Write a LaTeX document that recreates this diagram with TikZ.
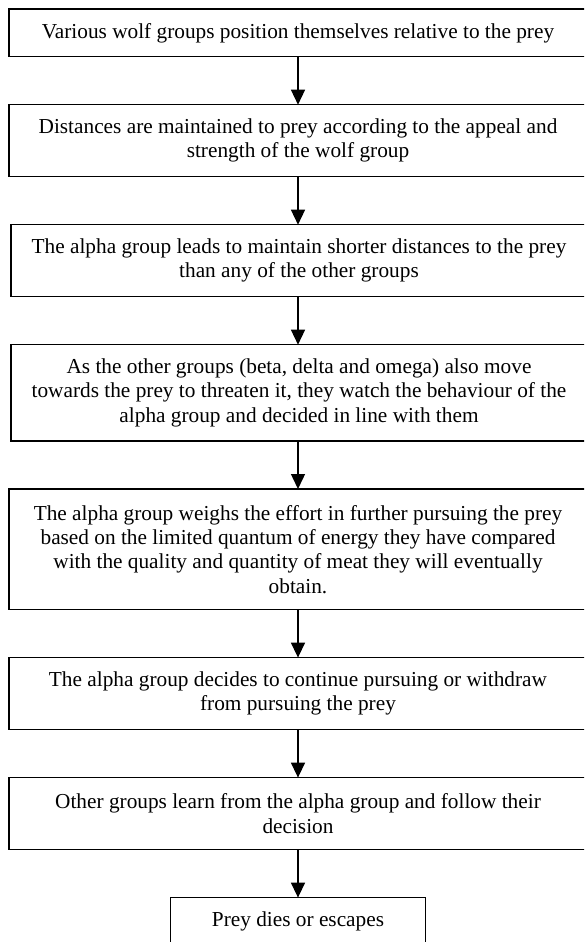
\documentclass[tikz,border=0pt]{standalone}
\usepackage{fontspec}
\setmainfont{Liberation Serif}
\usetikzlibrary{arrows.meta,positioning}
\tikzset{
  stage/.style    = {draw, line width=1.4pt, align=center, outer sep=0pt,
                     inner xsep=0pt, inner ysep=0pt, minimum width=578pt,
                     minimum height={23.4+24.3*#1},
                     font={\fontsize{21.3}{24.3}\selectfont}},
  stage/.default  = 1,
  flowarr/.style  = {-{Triangle[length=15pt,width=14pt]}, line width=1.4pt}
}

\begin{document}
\begin{tikzpicture}[x=1pt,y=1pt,node distance=48pt]
  % --- page frame, the boxes run past its right edge --------------------
  \useasboundingbox (0,0) rectangle (584,-942);
  \clip (0,0) rectangle (584,-942);
  % --- the steps, top to bottom -----------------------------------------
  \node[stage] (pos) at (298,-32.85)
       {Various wolf groups position themselves relative to the prey};
  \node[stage=2,below=of pos] (dist)
       {Distances are maintained to prey according to the appeal and\\
        strength of the wolf group};
  \node[stage=2,below=of dist,minimum width=576pt,xshift=1pt] (lead)
       {The alpha group leads to maintain shorter distances to the prey\\
        than any of the other groups};
  \node[stage=3,below=of lead,minimum width=576pt] (watch)
       {As the other groups (beta, delta and omega) also move\\
        towards the prey to threaten it, they watch the behaviour of the\\
        alpha group and decided in line with them};
  \node[stage=4,below=of watch,xshift=-1pt] (weigh)
       {The alpha group weighs the effort in further pursuing the prey\\
        based on the limited quantum of energy they have compared\\
        with the quality and quantity of meat they will eventually\\
        obtain.};
  \node[stage=2,below=of weigh] (decide)
       {The alpha group decides to continue pursuing or withdraw\\
        from pursuing the prey};
  \node[stage=2,below=of decide] (learn)
       {Other groups learn from the alpha group and follow their\\
        decision};
  \node[stage,below=of learn,minimum width=254.6pt] (end)
       {Prey dies or escapes};
  % --- the arrows between them ------------------------------------------
  \draw[flowarr] (pos) -- (dist);
  \draw[flowarr] (dist) -- (lead.north -| pos);
  \draw[flowarr] (lead.south -| pos) -- (watch.north -| pos);
  \draw[flowarr] (watch.south -| pos) -- (weigh);
  \draw[flowarr] (weigh) -- (decide);
  \draw[flowarr] (decide) -- (learn);
  \draw[flowarr] (learn) -- (end);
\end{tikzpicture}
\end{document}
